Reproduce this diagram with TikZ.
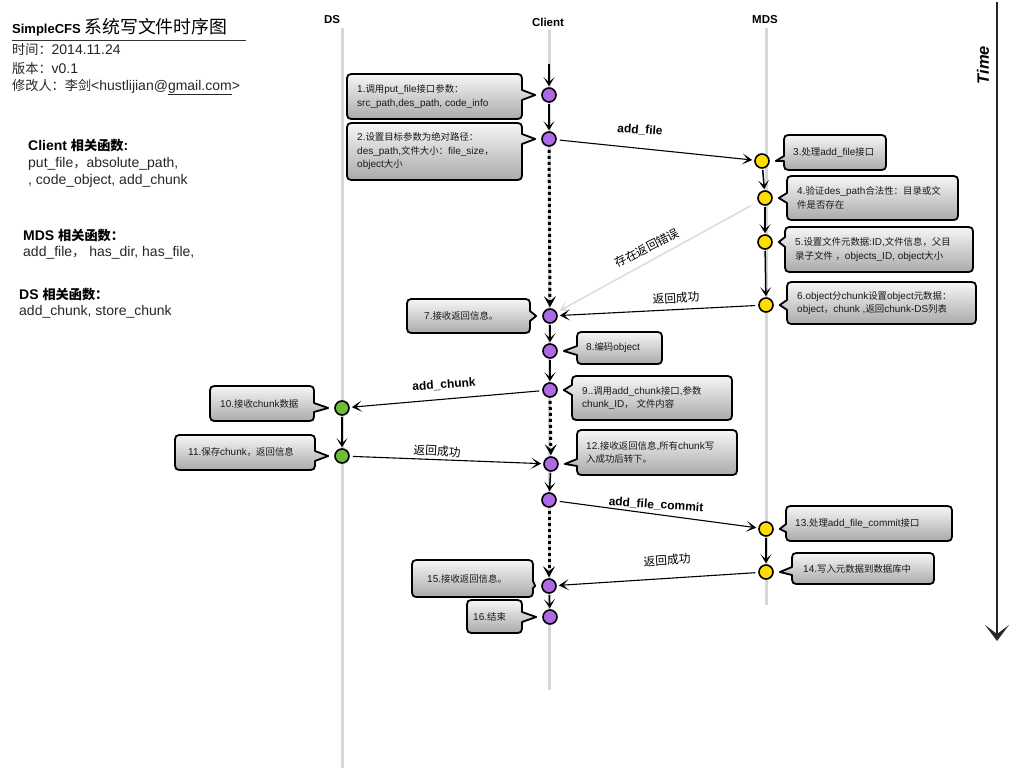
\documentclass[tikz,border=0pt]{standalone}
\usepackage{fontspec}
\setmainfont{Liberation Sans}
\newfontfamily\cjkfont[Scale=0.94]{Noto Sans CJK SC}
\usetikzlibrary{arrows.meta,calc}

% automatic switch to the CJK font for CJK characters
\XeTeXinterchartokenstate=1
\newXeTeXintercharclass\CJKcls
\newcount\cjkcnt
\def\setcjkrange#1#2{\cjkcnt=#1\relax\loop\XeTeXcharclass\cjkcnt=\CJKcls\relax\ifnum\cjkcnt<#2\relax\advance\cjkcnt by 1\relax\repeat}
\setcjkrange{"4E00}{"9FFF}
\setcjkrange{"3000}{"303F}
\setcjkrange{"FF00}{"FFEF}
\XeTeXinterchartoks 0 \CJKcls = {\begingroup\cjkfont}
\XeTeXinterchartoks 4095 \CJKcls = {\begingroup\cjkfont}
\XeTeXinterchartoks \CJKcls 0 = {\endgroup}
\XeTeXinterchartoks \CJKcls 4095 = {\endgroup}

\definecolor{cpurple}{RGB}{174,106,228}
\definecolor{cyellow}{RGB}{255,221,0}
\definecolor{cgreen}{RGB}{108,190,56}
\definecolor{lifegray}{RGB}{214,214,214}
\definecolor{boxtop}{RGB}{246,246,246}
\definecolor{boxbot}{RGB}{170,170,170}
\definecolor{errgray}{RGB}{220,220,220}

\tikzset{
  life/.style={draw=lifegray, line width=3pt},
  actor/.style={font=\fontsize{11.5}{13}\selectfont\bfseries},
  evt/.style={circle, draw=black, line width=1.6pt, minimum size=14pt, inner sep=0pt},
  pev/.style={evt, fill=cpurple},
  yev/.style={evt, fill=cyellow},
  gev/.style={evt, fill=cgreen},
  cshape/.style={draw=black, line width=1.8pt, line join=round, top color=boxtop, bottom color=boxbot},
  ctext/.style={anchor=west, align=left, inner sep=0pt, text=black!90, font=\fontsize{10}{13.5}\selectfont},
  msg/.style={draw=black, line width=1.1pt, -{Stealth[length=10pt,width=11pt,inset=5.5pt]}, shorten >=2pt, shorten <=3pt},
  seq/.style={draw=black, line width=1.5pt, -{Stealth[length=9pt,width=11pt,inset=5pt]}, shorten >=1pt, shorten <=1pt},
  wait/.style={draw=black, line width=3pt, dash pattern=on 3pt off 3pt, -{Stealth[length=11pt,width=12pt,inset=5pt,line width=0.6pt]}, shorten >=1pt, shorten <=3pt},
  err/.style={draw=errgray, line width=1.5pt, -{Stealth[length=10pt,width=11pt,inset=5.5pt]}, shorten >=3pt, shorten <=8pt},
  mlab/.style={font=\fontsize{12.5}{14}\selectfont},
  mlabb/.style={font=\fontsize{12}{14}\selectfont\bfseries},
  hdr/.style={anchor=west, inner sep=0pt, text=black!85, font=\fontsize{14}{16}\selectfont},
  hdrb/.style={hdr, font=\fontsize{14}{16}\selectfont\bfseries, text=black},
  timeaxis/.style={draw=black!85, line width=1.6pt, -{Stealth[length=16pt,width=24pt,inset=9pt]}},
}

% callout with the box left of its event (pointer to the right)
% #1 name, #2 x1, #3 y1, #4 x2, #5 y2, #6 event, #7 pointer y, #8 text, #9 text x
\newcommand\calloutR[9]{%
  \pgfmathsetmacro\pa{max(#7-5,#3+9)}\pgfmathsetmacro\pb{min(#7+5,#5-9)}%
  \path[cshape] (#2+9,#3) -- (#4-9,#3) .. controls (#4,#3) .. (#4,#3+9) -- (#4,\pa)
     -- ($(#6.west)+(-6,0)$) -- (#4,\pb) -- (#4,#5-9) .. controls (#4,#5) .. (#4-9,#5)
     -- (#2+9,#5) .. controls (#2,#5) .. (#2,#5-9) -- (#2,#3+9) .. controls (#2,#3) .. (#2+9,#3) -- cycle;
  \node[ctext] (#1) at (#9,{(#3+#5)/2}) {#8};}
% callout with the box right of its event (pointer to the left)
\newcommand\calloutL[9]{%
  \pgfmathsetmacro\pa{max(#7-5,#3+9)}\pgfmathsetmacro\pb{min(#7+5,#5-9)}%
  \path[cshape] (#2+9,#3) -- (#4-9,#3) .. controls (#4,#3) .. (#4,#3+9) -- (#4,#5-9)
     .. controls (#4,#5) .. (#4-9,#5) -- (#2+9,#5) .. controls (#2,#5) .. (#2,#5-9) -- (#2,\pb)
     -- ($(#6.east)+(6,0)$) -- (#2,\pa) -- (#2,#3+9) .. controls (#2,#3) .. (#2+9,#3) -- cycle;
  \node[ctext] (#1) at (#9,{(#3+#5)/2}) {#8};}

\begin{document}
\begin{tikzpicture}[x=1pt,y=-1pt]
\fill[white] (0,0) rectangle (1024,768);
\useasboundingbox (0,0) rectangle (1024,768);

% header
\node[anchor=west, inner sep=0pt, font=\fontsize{13}{15}\selectfont\bfseries] (title) at (12,27)
  {SimpleCFS {\fontsize{19}{22}\selectfont\mdseries 系统写文件时序图}};
\coordinate (ruleA) at (12,41);
\coordinate (ruleB) at (246,41);
\draw[line width=1pt, black!80] (ruleA) -- (ruleB);
\node[hdr] (h1) at (12,50) {时间：2014.11.24};
\node[hdr] (h2) at (12,69) {版本：v0.1};
\node[hdr] (h3) at (12,87) {修改人：李剑<hustlijian@\underline{gmail.com}>};

% function lists
\node[hdrb] (cf) at (28,146) {Client 相关函数:};
\node[hdr] (cf1) at (28,164) {put\_file，absolute\_path,};
\node[hdr] (cf2) at (28,181) {, code\_object, add\_chunk};
\node[hdrb] (mf) at (23,236) {MDS 相关函数：};
\node[hdr] (mf1) at (23,253) {add\_file，  has\_dir, has\_file,};
\node[hdrb] (df) at (19,295) {DS 相关函数：};
\node[hdr] (df1) at (19,312) {add\_chunk,  store\_chunk};

% lifelines
\node[actor] (lDS) at (332,20) {DS};
\node[actor] (lCl) at (548,22) {Client};
\node[actor] (lMDS) at (765,20) {MDS};
\coordinate (dsT) at (342,28);  \coordinate (dsB) at (342,768);
\coordinate (clT) at (549,30);  \coordinate (clB) at (549,690);
\coordinate (mdT) at (766,28);  \coordinate (mdB) at (766,605);
\draw[life] (dsT) -- (dsB);
\draw[life] (clT) -- (clB);
\draw[life] (mdT) -- (mdB);

% time axis
\coordinate (t0) at (997,2);
\coordinate (t1) at (997,641);
\draw[timeaxis] (t0) -- (t1);
\node[rotate=90, font=\fontsize{16.5}{18}\selectfont\bfseries\itshape] (time) at (983,65) {Time};

% events
\node[pev] (c1) at (549,95) {};
\node[pev] (c2) at (549,139) {};
\node[yev] (m3) at (762,161) {};
\node[yev] (m4) at (765,198) {};
\node[yev] (m5) at (765,242) {};
\node[yev] (m6) at (766,305) {};
\node[pev] (c7) at (550,316) {};
\node[pev] (c8) at (550,351) {};
\node[pev] (c9) at (550,390) {};
\node[gev] (d10) at (342,408) {};
\node[gev] (d11) at (342,456) {};
\node[pev] (c12) at (551,464) {};
\node[pev] (cx) at (549,500) {};
\node[yev] (m13) at (766,529) {};
\node[yev] (m14) at (766,572) {};
\node[pev] (c15) at (549,586) {};
\node[pev] (c16) at (550,617) {};

% callouts
\calloutR{b1}{347}{74}{522}{119}{c1}{95}{1.调用put\_file接口参数：\\src\_path,des\_path, code\_info}{357}
\calloutR{b2}{347}{123}{522}{180}{c2}{139}{2.设置目标参数为绝对路径：\\des\_path,文件大小：file\_size，\\object大小}{357}
\calloutL{b3}{784}{135}{886}{170}{m3}{161}{3.处理add\_file接口}{793}
\calloutL{b4}{787}{176}{958}{220}{m4}{198}{4.验证des\_path合法性：目录或文\\件是否存在}{797}
\calloutL{b5}{785}{227}{973}{272}{m5}{242}{5.设置文件元数据:ID,文件信息，父目\\录子文件 ，objects\_ID, object大小}{795}
\calloutL{b6}{787}{282}{976}{324}{m6}{305}{6.object分chunk设置object元数据：\\object，chunk ,返回chunk-DS列表}{797}
\calloutR{b7}{407}{299}{530}{333}{c7}{316}{7.接收返回信息。}{424}
\calloutL{b8}{577}{332}{662}{364}{c8}{351}{8.编码object}{586}
\calloutL{b9}{572}{376}{732}{420}{c9}{390}{9..调用add\_chunk接口,参数\\chunk\_ID，  文件内容}{582}
\calloutR{b10}{210}{386}{314}{421}{d10}{408}{10.接收chunk数据}{220}
\calloutR{b11}{175}{435}{315}{470}{d11}{456}{11.保存chunk，返回信息}{188}
\calloutL{b12}{577}{430}{737}{475}{c12}{464}{12.接收返回信息,所有chunk写\\入成功后转下。}{586}
\calloutL{b13}{786}{506}{952}{541}{m13}{529}{13.处理add\_file\_commit接口}{795}
\calloutL{b14}{792}{553}{934}{584}{m14}{572}{14.写入元数据到数据库中}{803}
\calloutR{b15}{412}{560}{533}{597}{c15}{586}{15.接收返回信息。}{427}
\calloutR{b16}{467}{600}{522}{633}{c16}{617}{16.结束}{473}

% connectors
\coordinate (ctop) at (549,63);
\draw[seq] (ctop) -- (c1);
\draw[seq] (c1) -- (c2);
\draw[msg] (c2) -- (m3);
\draw[wait] (c2) -- (c7);
\draw[seq] (m3) -- (m4);
\draw[seq] (m4) -- (m5);
\draw[seq] (m5) -- (m6);
\draw[err] (m4) -- (c7);
\draw[msg] (m6) -- (c7);
\draw[seq] (c7) -- (c8);
\draw[seq] (c8) -- (c9);
\draw[msg] (c9) -- (d10);
\draw[wait] (c9) -- (c12);
\draw[seq] (d10) -- (d11);
\draw[msg] (d11) -- (c12);
\draw[seq] (c12) -- (cx);
\draw[msg] (cx) -- (m13);
\draw[wait] (cx) -- (c15);
\draw[seq] (m13) -- (m14);
\draw[msg] (m14) -- (c15);
\draw[seq] (c15) -- (c16);

% connector labels
\node[mlabb, rotate=-4] (lab1) at (640,130) {add\_file};
\node[mlab, rotate=27] (lab2) at (647,248) {存在返回错误};
\node[mlab, rotate=3] (lab3) at (676,298) {返回成功};
\node[mlabb, rotate=4] (lab4) at (444,385) {add\_chunk};
\node[mlab, rotate=-3] (lab5) at (437,451) {返回成功};
\node[mlabb, rotate=-4] (lab6) at (656,505) {add\_file\_commit};
\node[mlab, rotate=4] (lab7) at (667,560) {返回成功};
\end{tikzpicture}
\end{document}
